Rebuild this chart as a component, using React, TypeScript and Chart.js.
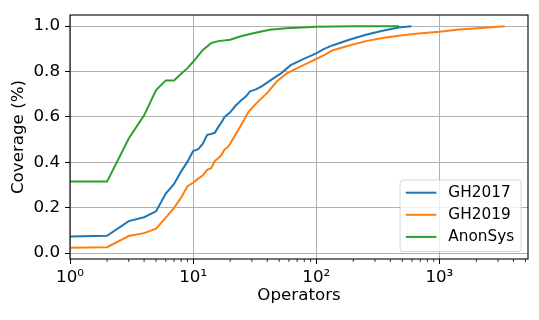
import React, { useEffect, useRef } from "react";
import { Chart, registerables } from "chart.js";

Chart.register(...registerables);

// ---- data ----
const gh2017X = [1, 2, 3, 4, 5, 6, 7, 8, 9, 10, 11, 12, 13, 14, 15, 16, 17, 18, 20, 22, 24, 27, 29, 32, 36, 43, 52, 62, 80, 99, 116, 135, 185, 253, 346, 468, 594];
const gh2017Y = [0.073, 0.076, 0.141, 0.158, 0.184, 0.262, 0.305, 0.36, 0.403, 0.45, 0.458, 0.482, 0.521, 0.525, 0.53, 0.555, 0.576, 0.6, 0.62, 0.648, 0.668, 0.692, 0.713, 0.72, 0.735, 0.763, 0.793, 0.828, 0.857, 0.879, 0.9, 0.915, 0.94, 0.962, 0.98, 0.994, 1.0];

const gh2019X = [1, 2, 3, 4, 5, 6, 7, 8, 9, 10, 11, 12, 13, 14, 15, 16, 17, 18, 19, 20, 22, 24, 28, 33, 40, 48, 58, 70, 85, 99, 116, 135, 185, 253, 346, 468, 640, 1000, 1450, 2200, 3400];
const gh2019Y = [0.024, 0.026, 0.075, 0.088, 0.108, 0.156, 0.199, 0.245, 0.295, 0.31, 0.328, 0.343, 0.367, 0.374, 0.406, 0.418, 0.432, 0.457, 0.465, 0.482, 0.52, 0.555, 0.62, 0.663, 0.706, 0.757, 0.793, 0.815, 0.837, 0.854, 0.872, 0.893, 0.915, 0.934, 0.948, 0.958, 0.966, 0.975, 0.985, 0.992, 1.0];

const anonX = [1, 2, 3, 4, 5, 6, 7, 8, 9, 10, 11, 12, 14, 16, 20, 24, 29, 35, 42, 57, 100, 200, 470];
const anonY = [0.315, 0.315, 0.505, 0.607, 0.718, 0.761, 0.761, 0.79, 0.815, 0.843, 0.87, 0.895, 0.925, 0.934, 0.94, 0.954, 0.965, 0.975, 0.984, 0.991, 0.997, 0.999, 1.0];

const seriesLabels = ["GH2017", "GH2019", "AnonSys"];
const seriesColors = ["#1f77b4", "#ff7f0e", "#2ca02c"];

const yTicks = [0.0, 0.2, 0.4, 0.6, 0.8, 1.0];
const xMajorTicks = [1, 10, 100, 1000];
const xTickLabels = ["10⁰", "10¹", "10²", "10³"];
const xMinorMultipliers = [2, 3, 4, 5, 6, 7, 8, 9];

const xMin = 1;
const xMax = 5250;
const yMin = -0.026;
const yMax = 1.049;

const FONT = '"DejaVu Sans", "Liberation Sans", sans-serif';
const AXIS_FONT_SIZE = 16.7;
const LEGEND_FONT_SIZE = 15.3;

const xMinorTicks: number[] = [];
xMajorTicks.forEach((d) => xMinorMultipliers.forEach((m) => { if (d * m <= xMax) xMinorTicks.push(d * m); }));
const xAllTicks = [...xMajorTicks, ...xMinorTicks].sort((a, b) => a - b);

const framePlugin = {
  id: "mplFrame",
  afterDatasetsDraw(chart: any) {
    const { ctx, chartArea: a, scales } = chart;
    const xs = scales.x;
    ctx.save();
    ctx.strokeStyle = "#000";
    ctx.lineWidth = 0.8;
    for (const v of xMinorTicks) {
      const px = xs.getPixelForValue(v);
      ctx.beginPath();
      ctx.moveTo(px, a.bottom);
      ctx.lineTo(px, a.bottom + 3);
      ctx.stroke();
    }
    ctx.lineWidth = 1.1;
    ctx.strokeStyle = "#000";
    ctx.strokeRect(a.left, a.top, a.right - a.left, a.bottom - a.top);
    ctx.restore();
  },
};

const legendPlugin = {
  id: "mplLegend",
  afterDraw(chart: any) {
    const { ctx, chartArea: a } = chart;
    const ds = chart.data.datasets;
    ctx.save();
    ctx.font = `${LEGEND_FONT_SIZE}px ${FONT}`;
    const maxW = Math.max(...ds.map((d: any) => ctx.measureText(d.label).width));
    const h = 71.5;
    const w = 48.3 + maxW + 6.7;
    const right = a.right - 7;
    const bottom = a.bottom - 7.5;
    const left = right - w;
    const top = bottom - h;
    ctx.beginPath();
    (ctx as any).roundRect(left, top, w, h, 3);
    ctx.fillStyle = "rgba(255,255,255,0.8)";
    ctx.fill();
    ctx.strokeStyle = "rgba(204,204,204,0.8)";
    ctx.lineWidth = 1;
    ctx.stroke();
    ds.forEach((d: any, i: number) => {
      const cy = top + 12.7 + i * 22.1;
      ctx.strokeStyle = d.borderColor;
      ctx.lineWidth = 2;
      ctx.beginPath();
      ctx.moveTo(left + 5.7, cy);
      ctx.lineTo(left + 36.3, cy);
      ctx.stroke();
      ctx.fillStyle = "#000";
      ctx.textBaseline = "middle";
      ctx.textAlign = "left";
      ctx.fillText(d.label, left + 48.3, cy);
    });
    ctx.restore();
  },
};

export default function App() {
  const ref = useRef<HTMLCanvasElement>(null);

  useEffect(() => {
    const xsList = [gh2017X, gh2019X, anonX];
    const ysList = [gh2017Y, gh2019Y, anonY];
    const chart = new Chart(ref.current as HTMLCanvasElement, {
      type: "line",
      data: {
        datasets: seriesLabels.map((label, k) => ({
          label,
          data: xsList[k].map((x, i) => ({ x, y: ysList[k][i] })),
          borderColor: seriesColors[k],
          backgroundColor: seriesColors[k],
          borderWidth: 2,
          pointRadius: 0,
          tension: 0,
          fill: false,
        })),
      },
      options: {
        responsive: false,
        animation: false,
        devicePixelRatio: 1,
        layout: { padding: { left: 0, top: 11, right: 11, bottom: 0 } },
        plugins: { legend: { display: false }, tooltip: { enabled: false } },
        scales: {
          x: {
            type: "logarithmic",
            min: xMin,
            max: xMax,
            afterBuildTicks: (scale: any) => {
              scale.ticks = xAllTicks.map((v) => ({ value: v, major: xMajorTicks.includes(v) }));
            },
            afterFit: (scale: any) => {
              scale.height = 61;
            },
            border: { display: false },
            grid: {
              color: (c: any) => (c.tick && xMajorTicks.includes(c.tick.value) ? "#b0b0b0" : "rgba(0,0,0,0)"),
              tickColor: (c: any) => (c.tick && xMajorTicks.includes(c.tick.value) ? "#000" : "rgba(0,0,0,0)"),
              lineWidth: 1,
              tickLength: 5,
              tickWidth: 1,
            },
            ticks: {
              autoSkip: false,
              maxRotation: 0,
              minRotation: 0,
              padding: 4,
              color: "#000",
              font: { family: FONT, size: AXIS_FONT_SIZE },
              callback: (v: any) => {
                const i = xMajorTicks.indexOf(Number(v));
                return i >= 0 ? xTickLabels[i] : "";
              },
            },
            title: {
              display: true,
              text: "Operators",
              color: "#000",
              font: { family: FONT, size: AXIS_FONT_SIZE },
              padding: { top: 0, bottom: 14.3 },
            },
          },
          y: {
            type: "linear",
            min: yMin,
            max: yMax,
            afterBuildTicks: (scale: any) => {
              scale.ticks = yTicks.map((v) => ({ value: v }));
            },
            afterFit: (scale: any) => {
              scale.width = 70;
            },
            border: { display: false },
            grid: {
              color: "#b0b0b0",
              tickColor: "#000",
              lineWidth: 1,
              tickLength: 5,
              tickWidth: 1,
            },
            ticks: {
              padding: 5,
              color: "#000",
              font: { family: FONT, size: AXIS_FONT_SIZE },
              callback: (v: any) => Number(v).toFixed(1),
            },
            title: {
              display: true,
              text: "Coverage (%)",
              color: "#000",
              font: { family: FONT, size: AXIS_FONT_SIZE },
              padding: { top: 8.7, bottom: 0 },
            },
          },
        },
      },
      plugins: [framePlugin, legendPlugin],
    });
    return () => chart.destroy();
  }, []);

  return (
    <div style={{ position: "absolute", left: 0, top: 0, width: 539, height: 320, background: "#fff" }}>
      <canvas ref={ref} width={539} height={320} style={{ width: 539, height: 320, display: "block" }} />
    </div>
  );
}
